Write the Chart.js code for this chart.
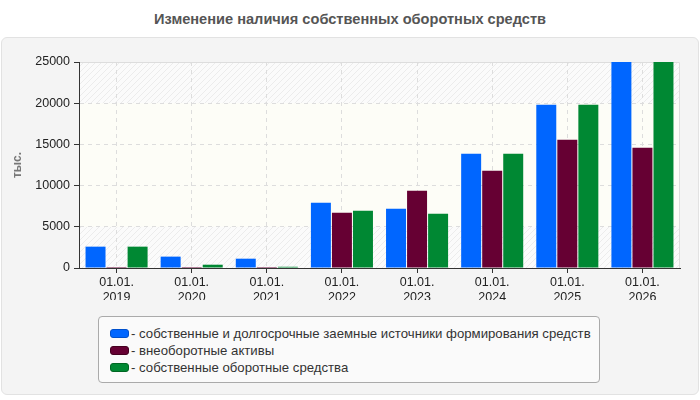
<!DOCTYPE html>
<html>
<head>
<meta charset="utf-8">
<script src="https://cdn.jsdelivr.net/npm/chart.js@4.4.0/dist/chart.umd.min.js"></script>
<style>
  body { margin: 0; background: #fff; font-family: Arial, "Liberation Sans", sans-serif; }
  #wrap { position: relative; width: 700px; height: 400px; overflow: hidden; }
  #title { position: absolute; left: 0; top: 11px; width: 700px; text-align: center;
           font-weight: bold; font-size: 14.6px; color: #555; }
  #panel { position: absolute; left: 1px; top: 37px; width: 696px; height: 356px;
           background: #f4f4f4; border: 1px solid #e2e2e2; border-radius: 6px; }
  #box { position: absolute; left: 0; top: 38px; width: 700px; height: 262px; }
  #legend { position: absolute; left: 98px; top: 316px; width: 500px; height: 65px;
            background: #fafafa; border: 1px solid #aaa; border-radius: 4px;
            font-size: 13.2px; color: #333; }
  .item { position: absolute; left: 11px; height: 16px; line-height: 16px; white-space: nowrap; }
  .sw { display: inline-block; width: 17px; height: 7px; border-radius: 3px;
        vertical-align: middle; margin-right: 2px; margin-top: -2px; }
</style>
</head>
<body>
<div id="wrap">
  <div id="title">Изменение наличия собственных оборотных средств</div>
  <div id="panel"></div>
  <div id="box"><canvas id="chart"></canvas></div>
  <div id="legend"></div>
</div>
<script>
// Chart data
const categories = [
    ['01.01.', '2019'], ['01.01.', '2020'], ['01.01.', '2021'], ['01.01.', '2022'],
    ['01.01.', '2023'], ['01.01.', '2024'], ['01.01.', '2025'], ['01.01.', '2026']
];
const seriesNames = [
    'собственные и долгосрочные заемные источники формирования средств',
    'внеоборотные активы',
    'собственные оборотные средства'
];
const ownAndLongTerm = [2590, 1380, 1130, 7930, 7200, 13880, 19820, 25000];
const nonCurrentAssets = [120, 120, 120, 6720, 9390, 11810, 15570, 14600];
const ownWorkingCapital = [2590, 400, 150, 6960, 6590, 13880, 19820, 25000];
const yTicks = [0, 5000, 10000, 15000, 20000, 25000];

const colors = ['#0066ff', '#660033', '#008833'];
const borderColors = ['#0050cc', '#44001f', '#006622'];

// Build the HTML legend
function buildLegend() {
    const legend = document.getElementById('legend');
    seriesNames.forEach((name, i) => {
        const item = document.createElement('div');
        item.className = 'item';
        item.style.top = (9 + i * 17) + 'px';
        const sw = document.createElement('span');
        sw.className = 'sw';
        sw.style.background = colors[i];
        sw.style.border = '1px solid ' + borderColors[i];
        item.appendChild(sw);
        item.appendChild(document.createTextNode('- ' + name));
        legend.appendChild(item);
    });
}

// Hatched plot background with a plain band in the middle
function makeHatch(ctx) {
    const c = document.createElement('canvas');
    c.width = 6; c.height = 6;
    const p = c.getContext('2d');
    p.fillStyle = '#fbfbfb';
    p.fillRect(0, 0, 6, 6);
    p.strokeStyle = '#ececec';
    p.lineWidth = 1;
    p.beginPath();
    p.moveTo(0, 6); p.lineTo(6, 0);
    p.moveTo(-1, 1); p.lineTo(1, -1);
    p.moveTo(5, 7); p.lineTo(7, 5);
    p.stroke();
    return ctx.createPattern(c, 'repeat');
}

const plotBackground = {
    id: 'plotBackground',
    beforeDraw(chart) {
        const { ctx, chartArea: a, scales: { y } } = chart;
        ctx.save();
        ctx.fillStyle = makeHatch(ctx);
        ctx.fillRect(a.left, a.top, a.right - a.left, a.bottom - a.top);
        const top = y.getPixelForValue(20000);
        const bottom = y.getPixelForValue(5000);
        ctx.fillStyle = '#fdfdf7';
        ctx.fillRect(a.left, top, a.right - a.left, bottom - top);
        ctx.strokeStyle = '#dddddd';
        ctx.lineWidth = 1;
        ctx.beginPath();
        ctx.moveTo(a.left, a.top + 0.5);
        ctx.lineTo(a.right - 0.5, a.top + 0.5);
        ctx.lineTo(a.right - 0.5, a.bottom);
        ctx.stroke();
        ctx.restore();
    }
};

function createChart() {
    const datasets = [ownAndLongTerm, nonCurrentAssets, ownWorkingCapital].map((data, i) => ({
        label: seriesNames[i],
        data: data,
        backgroundColor: colors[i],
        borderWidth: 0,
        categoryPercentage: 0.84,
        barPercentage: 0.95
    }));

    new Chart(document.getElementById('chart'), {
        type: 'bar',
        data: { labels: categories, datasets: datasets },
        plugins: [plotBackground],
        options: {
            responsive: true,
            maintainAspectRatio: false,
            animation: false,
            layout: { padding: { top: 24, right: 20, left: 0, bottom: 0 } },
            scales: {
                x: {
                    grid: {
                        offset: false,
                        color: '#dddddd',
                        tickColor: '#333',
                        tickLength: 5,
                        drawOnChartArea: true
                    },
                    border: { color: '#333', width: 1, dash: [4, 4] },
                    ticks: {
                        color: '#222',
                        font: { family: 'Arial', size: 12.5, lineHeight: 1.2 },
                        padding: 2,
                        maxRotation: 0,
                        autoSkip: false
                    },
                    afterFit(scale) { scale.height = 32; }
                },
                y: {
                    min: 0,
                    max: 25000,
                    afterBuildTicks(scale) { scale.ticks = yTicks.map(v => ({ value: v })); },
                    grid: {
                        color: '#dddddd',
                        tickColor: '#333',
                        tickLength: 5
                    },
                    border: { color: '#333', width: 1, dash: [4, 4] },
                    ticks: {
                        color: '#222',
                        font: { family: 'Arial', size: 12.5 },
                        padding: 4,
                        callback: v => String(v)
                    },
                    title: {
                        display: true,
                        text: 'тыс.',
                        color: '#777',
                        font: { family: 'Arial', size: 12, weight: 'bold' },
                        padding: { top: 10, bottom: 0 }
                    },
                    afterFit(scale) { scale.width = 79; }
                }
            },
            plugins: {
                legend: { display: false },
                tooltip: { enabled: false }
            }
        }
    });
}

buildLegend();
createChart();
</script>
</body>
</html>
